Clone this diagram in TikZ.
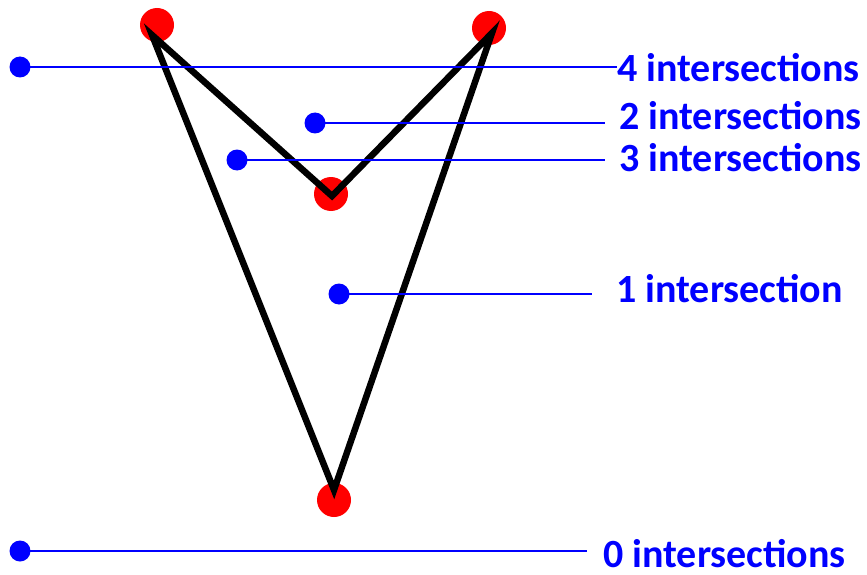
\documentclass[tikz,border=0pt]{standalone}
\usepackage{fontspec}
\setmainfont{Carlito}
\begin{document}
\begin{tikzpicture}[x=1pt, y=-1pt,
    vertex/.style={circle, fill=red, inner sep=0pt, minimum size=34pt},
    probe/.style={circle, fill=blue, inner sep=0pt, minimum size=21pt},
    ray/.style={blue, line width=1.8pt},
    edge/.style={black, line width=6.5pt, line join=miter},
    count/.style={anchor=base west, inner sep=0pt, text=blue, font=\fontsize{40}{44}\selectfont\bfseries}
]
    \useasboundingbox (0,0) rectangle (867,575);

    % Sommets du polygone
    \node[vertex] (vA) at (157,25) {};
    \node[vertex] (vB) at (489,28) {};
    \node[vertex] (vC) at (331,194) {};
    \node[vertex] (vD) at (334,500) {};
    \coordinate (cA) at (152,35);
    \coordinate (cB) at (492,33);
    \coordinate (cC) at (332,196);
    \coordinate (cD) at (334,490);

    % Polygone
    \draw[edge] (cA) -- (cC) -- (cB) -- (cD) -- cycle;

    % Points de test
    \node[probe] (p4) at (20,67) {};
    \node[probe] (p2) at (315,123) {};
    \node[probe] (p3) at (237,160) {};
    \node[probe] (p1) at (339,294) {};
    \node[probe] (p0) at (20,551) {};

    % Etiquettes
    \node[count] (l4) at (617,82) {4 intersections};
    \node[count] (l2) at (619,129) {2 intersections};
    \node[count] (l3) at (619,171) {3 intersections};
    \node[count] (l1) at (616,302) {1 intersection};
    \node[count] (l0) at (603,567) {0 intersections};

    % Rayons
    \draw[ray] (p4.center) -- (l4.west |- p4);
    \draw[ray] (p2.center) -- ([xshift=-14pt]l2.west |- p2);
    \draw[ray] (p3.center) -- ([xshift=-14pt]l3.west |- p3);
    \draw[ray] (p1.center) -- ([xshift=-24pt]l1.west |- p1);
    \draw[ray] (p0.center) -- ([xshift=-16pt]l0.west |- p0);
\end{tikzpicture}
\end{document}
